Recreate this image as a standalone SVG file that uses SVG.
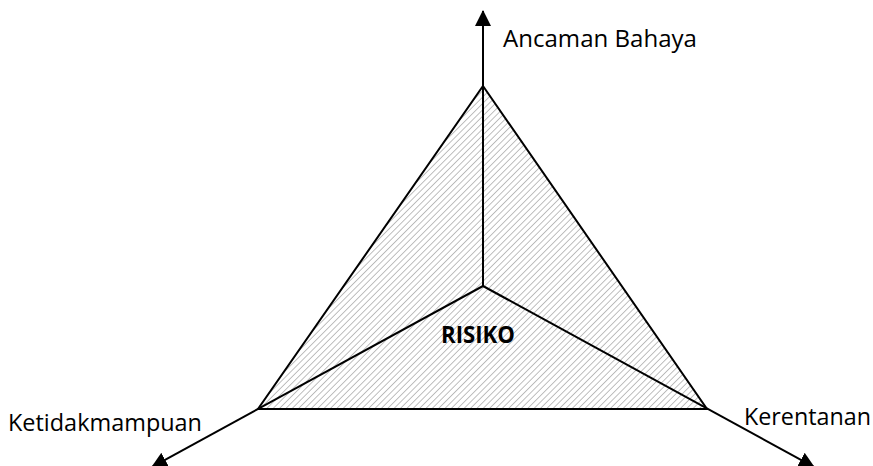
<svg xmlns="http://www.w3.org/2000/svg" width="873" height="466" viewBox="0 0 873 466">
<defs>
<pattern id="hatch" patternUnits="userSpaceOnUse" width="4.5" height="4.5" patternTransform="rotate(45)">
<rect width="4.5" height="4.5" fill="#ffffff"/>
<line x1="0" y1="0" x2="0" y2="4.5" stroke="#b4b4b4" stroke-width="1.7"/>
</pattern>
<marker id="arrB" viewBox="0 0 16 16" markerWidth="16" markerHeight="16" refX="15" refY="8" orient="auto" markerUnits="userSpaceOnUse">
<path d="M0,0 L16,8 L0,16 Z" fill="#000"/>
</marker>
</defs>
<style>
.ln{stroke:#000;stroke-width:2;fill:none}
.lbl{font-family:"Open Sans","Noto Sans","Liberation Sans",sans-serif;font-size:23px;fill:#000}
.bold{font-family:"Open Sans","Noto Sans","Liberation Sans",sans-serif;font-size:23px;font-weight:bold;fill:#000}
</style>
<g id="triangle">
<polygon points="483,86 707,409 258,409" fill="url(#hatch)" stroke="#000" stroke-width="2"/>
</g>
<g id="connectors">
<line class="ln" x1="483" y1="286" x2="483" y2="11" marker-end="url(#arrB)"/>
<line class="ln" x1="483" y1="286" x2="152" y2="467" marker-end="url(#arrB)"/>
<line class="ln" x1="483" y1="286" x2="814" y2="467" marker-end="url(#arrB)"/>
</g>
<g id="risiko"><text class="bold" x="441" y="343" textLength="74" lengthAdjust="spacingAndGlyphs">RISIKO</text></g>
<g id="ancaman"><text class="lbl" x="503" y="47" textLength="194" lengthAdjust="spacingAndGlyphs">Ancaman Bahaya</text></g>
<g id="ketidak"><text class="lbl" x="8" y="431" textLength="194" lengthAdjust="spacingAndGlyphs">Ketidakmampuan</text></g>
<g id="kerentanan"><text class="lbl" x="744" y="425" textLength="127" lengthAdjust="spacingAndGlyphs">Kerentanan</text></g>
</svg>
